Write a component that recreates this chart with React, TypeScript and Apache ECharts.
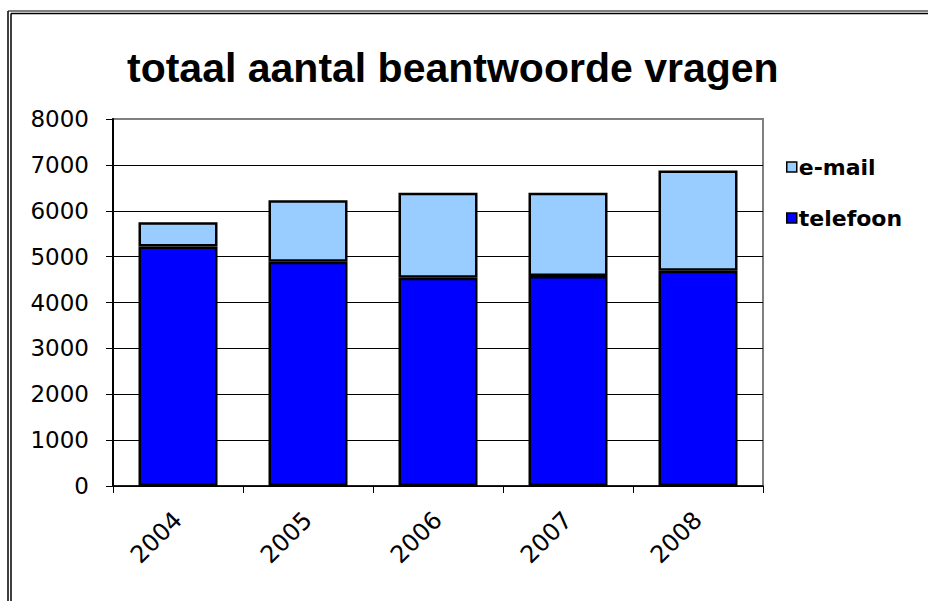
import React, { useEffect, useRef } from "react";
import * as echarts from "echarts";

const years = ["2004", "2005", "2006", "2007", "2008"];
const telefoon = [5220, 4890, 4540, 4580, 4690];
const email = [530, 1340, 1850, 1810, 2190];
const legendNames = ["e-mail", "telefoon"];
const titleText = "totaal aantal beantwoorde vragen";

export default function App() {
  const ref = useRef<HTMLDivElement>(null);
  useEffect(() => {
    if (!ref.current) return;
    const chart = echarts.init(ref.current, null, { renderer: "svg" });
    const splitColors = ["#000", "#000", "#000", "#000", "#000", "#000", "#000", "#000", "#808080"];
    chart.setOption({
      animation: false,
      backgroundColor: "#ffffff",
      title: {
        text: titleText,
        left: 127,
        top: 47,
        padding: 0,
        textStyle: {
          fontFamily: "Liberation Sans, Arial, sans-serif",
          fontWeight: "bold",
          fontSize: 41,
          color: "#000",
        },
      },
      legend: {
        data: legendNames,
        orient: "vertical",
        left: 786,
        top: 156,
        itemWidth: 10,
        itemHeight: 10,
        itemGap: 29,
        icon: "rect",
        padding: 0,
        itemStyle: { borderColor: "#000", borderWidth: 1.5 },
        textStyle: {
          fontFamily: "DejaVu Sans, sans-serif",
          fontWeight: "bold",
          fontSize: 22,
          color: "#000",
          padding: [0, 0, 0, -3],
        },
      },
      grid: {
        left: 113,
        right: 165,
        top: 119,
        bottom: 115,
        show: true,
        borderColor: "#808080",
        borderWidth: 2,
        backgroundColor: "transparent",
        containLabel: false,
      },
      xAxis: {
        type: "category",
        data: years,
        boundaryGap: true,
        axisLine: { show: true, lineStyle: { color: "#000", width: 1.5 } },
        axisTick: { show: true, length: 7, lineStyle: { color: "#000", width: 1 } },
        axisLabel: {
          rotate: 45,
          margin: 30,
          fontFamily: "DejaVu Sans, sans-serif",
          fontSize: 24,
          color: "#000",
        },
        splitLine: { show: false },
      },
      yAxis: {
        type: "value",
        min: 0,
        max: 8000,
        interval: 1000,
        axisLine: { show: true, lineStyle: { color: "#000", width: 2 } },
        axisTick: { show: true, length: 7, lineStyle: { color: "#000", width: 1 } },
        axisLabel: {
          margin: 24,
          fontFamily: "DejaVu Sans, sans-serif",
          fontSize: 23,
          color: "#000",
          formatter: (v: number) => String(v),
        },
        splitLine: { show: true, lineStyle: { color: splitColors, width: 1 } },
      },
      series: [
        {
          name: "telefoon",
          type: "bar",
          stack: "total",
          barWidth: 79,
          data: telefoon,
          itemStyle: { color: "#0000FF", borderColor: "#000", borderWidth: 2.5 },
        },
        {
          name: "e-mail",
          type: "bar",
          stack: "total",
          barWidth: 79,
          data: email,
          itemStyle: { color: "#99CCFF", borderColor: "#000", borderWidth: 2.5 },
        },
      ],
      graphic: [
        { type: "line", shape: { x1: 8, y1: 11, x2: 928, y2: 11 }, style: { stroke: "#555", lineWidth: 1.5 } },
        { type: "line", shape: { x1: 11, y1: 13.5, x2: 928, y2: 13.5 }, style: { stroke: "#000", lineWidth: 1.5 } },
        { type: "line", shape: { x1: 8, y1: 11, x2: 8, y2: 601 }, style: { stroke: "#000", lineWidth: 1.5 } },
        { type: "line", shape: { x1: 11, y1: 13.5, x2: 11, y2: 601 }, style: { stroke: "#000", lineWidth: 1.5 } },
      ],
    });
    return () => chart.dispose();
  }, []);
  return (
    <div
      ref={ref}
      style={{ position: "absolute", left: 0, top: 0, width: 928, height: 601 }}
    />
  );
}
